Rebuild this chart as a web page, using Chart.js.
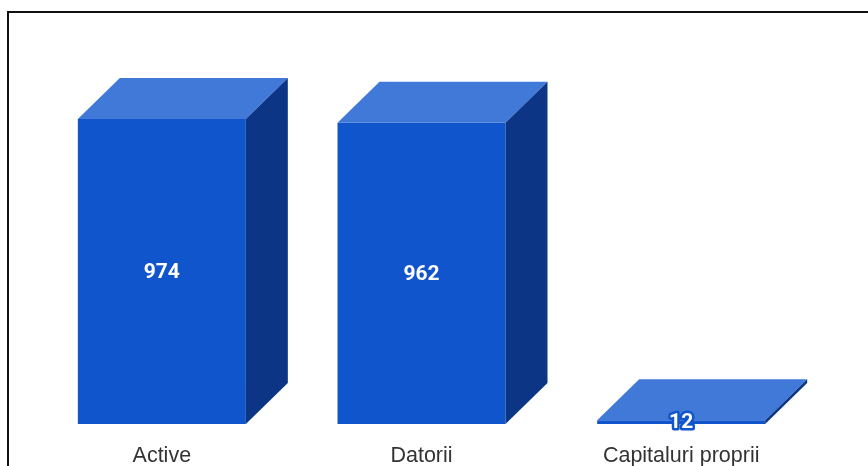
<!DOCTYPE html>
<html>
<head>
<meta charset="utf-8">
<script src="https://cdn.jsdelivr.net/npm/chart.js@4/dist/chart.umd.min.js"></script>
<style>
  html, body { margin: 0; padding: 0; background: #fff; overflow: hidden; }
  #frame {
    position: absolute; left: 7px; top: 11px;
    width: 900px; height: 500px;
    border: 2px solid #111;
  }
  #wrap { position: absolute; left: 0; top: 0; width: 868px; height: 466px; }
</style>
</head>
<body>
<div id="frame"></div>
<div id="wrap"><canvas id="chart" width="868" height="466"></canvas></div>
<script>
  const categories = ["Active", "Datorii", "Capitaluri proprii"];
  const values = [974, 962, 12];

  const frontColor = "#1155cc";
  const topColor = "#4179d8";
  const sideColor = "#0c3685";
  const depthX = 42;
  const depthY = 41;

  // top and side faces of each bar, plus the value in the middle of the front
  const box3d = {
    id: "box3d",
    afterDatasetsDraw(chart) {
      const ctx = chart.ctx;
      const meta = chart.getDatasetMeta(0);
      ctx.save();
      meta.data.forEach((bar, i) => {
        const left = bar.x - bar.width / 2;
        const right = bar.x + bar.width / 2;
        const top = bar.y;
        const base = bar.base;

        ctx.fillStyle = topColor;
        ctx.beginPath();
        ctx.moveTo(left, top);
        ctx.lineTo(left + depthX, top - depthY);
        ctx.lineTo(right + depthX, top - depthY);
        ctx.lineTo(right, top);
        ctx.closePath();
        ctx.fill();

        ctx.fillStyle = sideColor;
        ctx.beginPath();
        ctx.moveTo(right, top);
        ctx.lineTo(right + depthX, top - depthY);
        ctx.lineTo(right + depthX, base - depthY);
        ctx.lineTo(right, base);
        ctx.closePath();
        ctx.fill();

        ctx.font = "bold 21px Roboto";
        ctx.textAlign = "center";
        ctx.textBaseline = "middle";
        ctx.lineJoin = "round";
        ctx.lineWidth = 5;
        ctx.strokeStyle = frontColor;
        const ty = (top + base) / 2 + 1;
        ctx.strokeText(String(values[i]), bar.x, ty);
        ctx.fillStyle = "#ffffff";
        ctx.fillText(String(values[i]), bar.x, ty);
      });
      ctx.restore();
    },
  };

  new Chart(document.getElementById("chart"), {
    type: "bar",
    data: {
      labels: categories,
      datasets: [
        {
          data: values,
          backgroundColor: frontColor,
          borderWidth: 0,
          barPercentage: 0.647,
          categoryPercentage: 1,
        },
      ],
    },
    options: {
      responsive: false,
      animation: false,
      layout: { padding: { left: 32, right: 57, top: 119, bottom: 0 } },
      scales: {
        x: {
          grid: { display: false, drawTicks: false },
          border: { display: false },
          afterFit(scale) {
            scale.height = 42;
          },
          ticks: {
            padding: 19,
            color: "#333",
            font: { family: "'Liberation Sans', Arial", size: 21.5 },
          },
        },
        y: {
          display: false,
          min: 0,
          max: Math.max(...values),
        },
      },
      plugins: {
        legend: { display: false },
        tooltip: { enabled: false },
      },
    },
    plugins: [box3d],
  });
</script>
</body>
</html>
